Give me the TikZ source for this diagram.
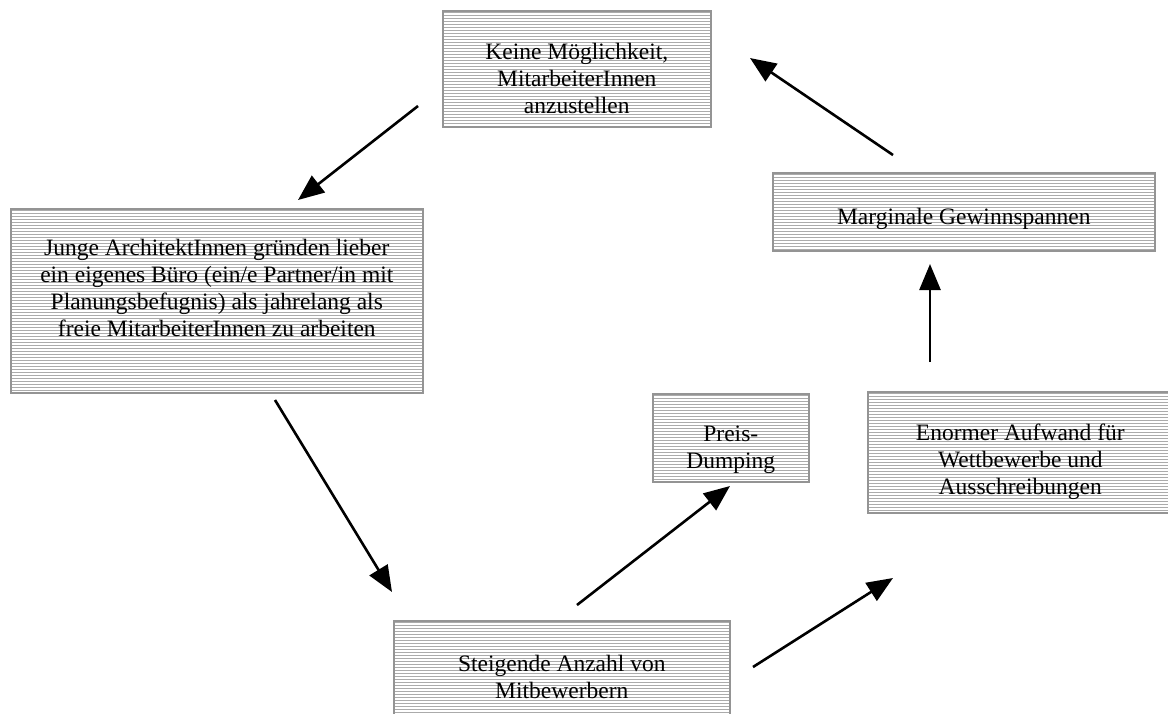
\documentclass[tikz,border=0pt]{standalone}
\usepackage{fontspec}
\setmainfont{Liberation Serif}
\usetikzlibrary{arrows.meta}

\tikzset{
  box/.style={draw=black!42, line width=1.6pt, inner sep=0pt, anchor=north west,
    path picture={
      \foreach \k in {1.5,4.5,...,400}{
        \draw[black!33, line width=0.9pt]
          ([yshift=-\k pt]path picture bounding box.north west) --
          ([yshift=-\k pt]path picture bounding box.north east);
      }
    }},
  txt/.style={align=center, inner sep=0pt, text=black,
    font=\fontsize{23.5}{27}\selectfont},
  flow/.style={line width=2.6pt, -{Triangle[length=26pt,width=21pt]}}
}

\begin{document}
\begin{tikzpicture}[x=1pt, y=-1pt]
  \useasboundingbox (0,0) rectangle (1168,713);
  \clip (0,0) rectangle (1168,713);

  % boxes (top-left corner, size) with their captions
  \node[box, minimum width=268pt, minimum height=116pt,
        label={[txt, yshift=-10pt]center:Keine Möglichkeit,\\MitarbeiterInnen\\anzustellen}]
        (keine) at (442,10) {};
  \node[box, minimum width=412pt, minimum height=184pt,
        label={[txt, yshift=13pt]center:Junge ArchitektInnen gründen lieber\\ein eigenes Büro (ein/e Partner/in mit\\Planungsbefugnis) als jahrelang als\\freie MitarbeiterInnen zu arbeiten}]
        (junge) at (10,208) {};
  \node[box, minimum width=382pt, minimum height=78pt,
        label={[txt, yshift=-7pt]center:Marginale Gewinnspannen}]
        (marg) at (772,172) {};
  \node[box, minimum width=305pt, minimum height=121pt,
        label={[txt, yshift=-9pt]center:Enormer Aufwand für\\Wettbewerbe und\\Ausschreibungen}]
        (aufwand) at (867,391) {};
  \node[box, minimum width=156pt, minimum height=88pt,
        label={[txt, yshift=-12pt]center:Preis-\\Dumping}]
        (preis) at (652,393) {};
  \node[box, minimum width=336pt, minimum height=140pt,
        label={[txt, yshift=14pt]center:Steigende Anzahl von\\Mitbewerbern}]
        (anzahl) at (393,620) {};

  % arrow ends
  \coordinate (a1s) at (418,106);  \coordinate (a1e) at (298,200);
  \coordinate (a2s) at (275,400);  \coordinate (a2e) at (392,592);
  \coordinate (a3s) at (577,605);  \coordinate (a3e) at (730,486);
  \coordinate (a4s) at (753,667);  \coordinate (a4e) at (893,578);
  \coordinate (a5s) at (930,362);  \coordinate (a5e) at (930,264);
  \coordinate (a6s) at (893,155);  \coordinate (a6e) at (750,58);

  \draw[flow] (a1s) -- (a1e);
  \draw[flow] (a2s) -- (a2e);
  \draw[flow] (a3s) -- (a3e);
  \draw[flow] (a4s) -- (a4e);
  \draw[flow] (a5s) -- (a5e);
  \draw[flow] (a6s) -- (a6e);
\end{tikzpicture}
\end{document}
